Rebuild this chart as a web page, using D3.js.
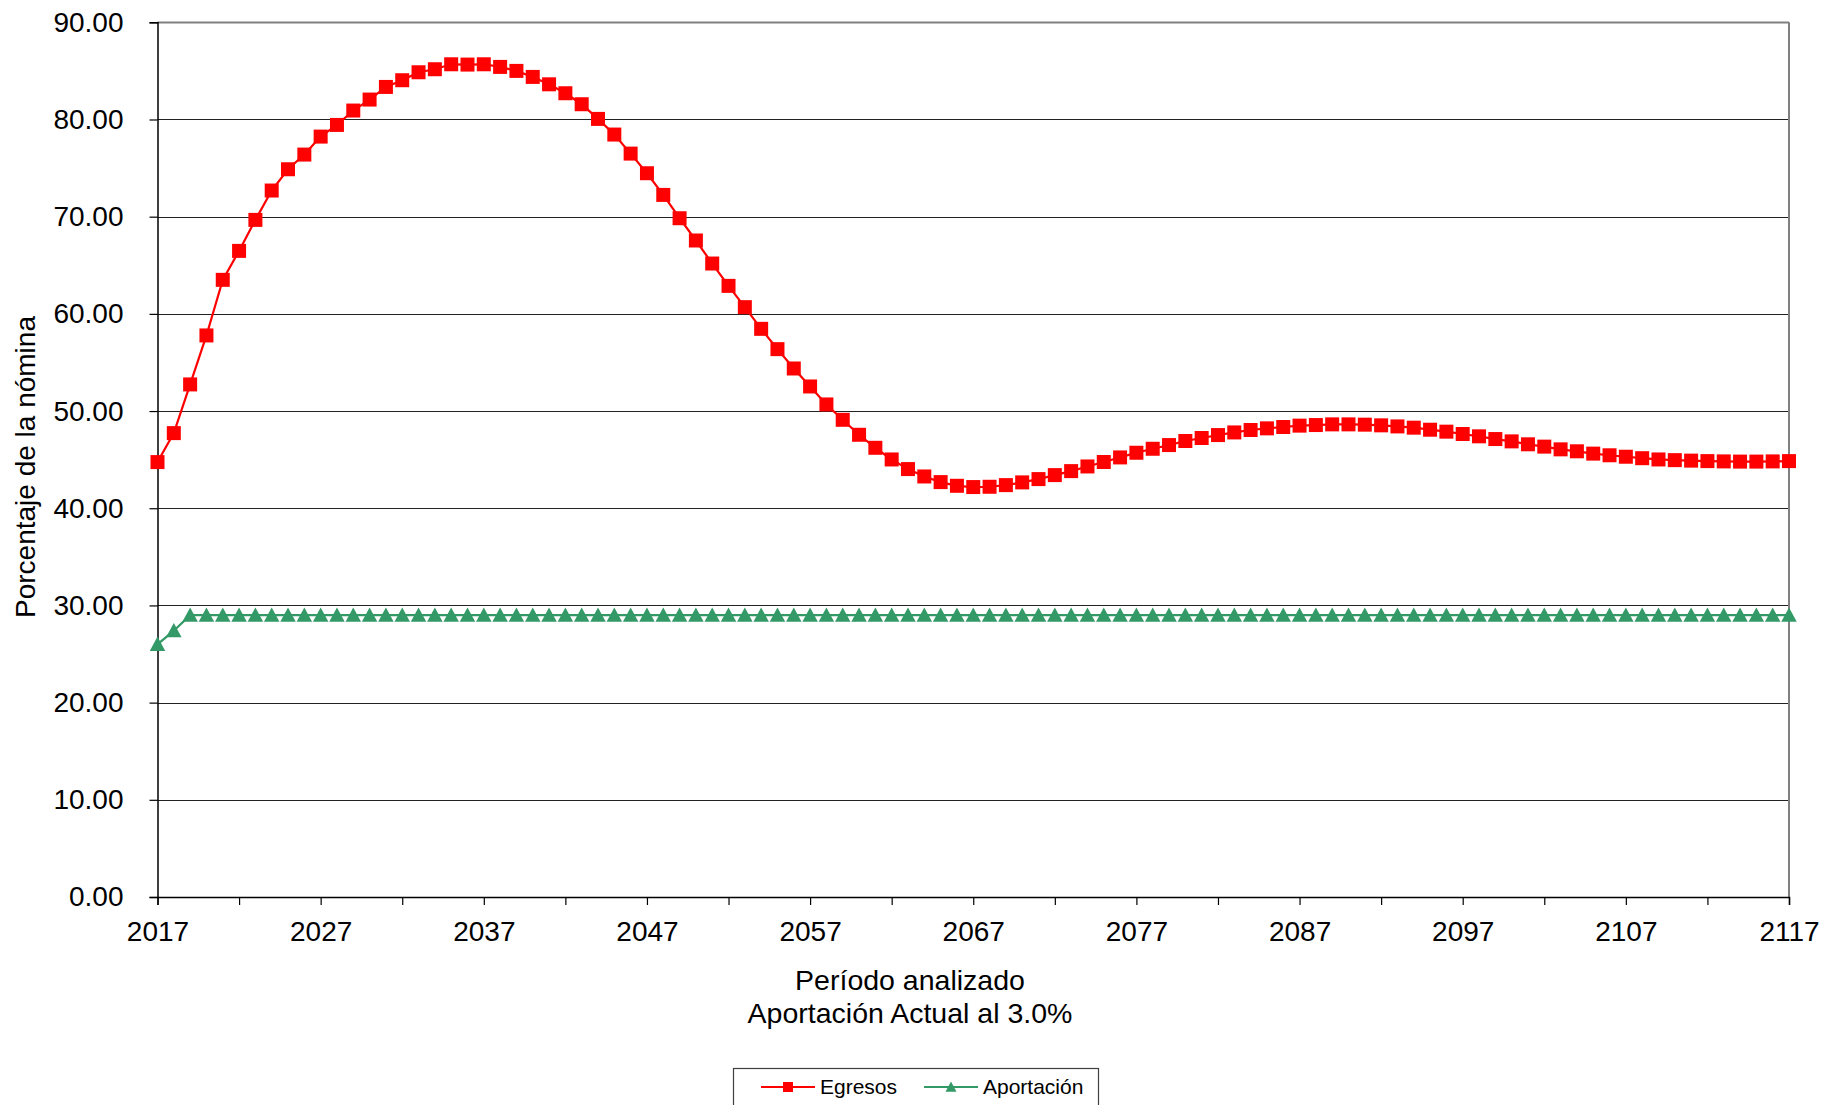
<!DOCTYPE html>
<html>
<head>
<meta charset="utf-8">
<script src="https://cdn.jsdelivr.net/npm/d3@7"></script>
<style>
  html, body { margin: 0; padding: 0; background: #fff; }
  svg { display: block; font-family: "Liberation Sans", Arial, sans-serif; }
</style>
</head>
<body>
<svg id="chart" width="1843" height="1105"></svg>
<script>
// ---------- data ----------
const years = [
  2017,2018,2019,2020,2021,2022,2023,2024,2025,2026,
  2027,2028,2029,2030,2031,2032,2033,2034,2035,2036,
  2037,2038,2039,2040,2041,2042,2043,2044,2045,2046,
  2047,2048,2049,2050,2051,2052,2053,2054,2055,2056,
  2057,2058,2059,2060,2061,2062,2063,2064,2065,2066,
  2067,2068,2069,2070,2071,2072,2073,2074,2075,2076,
  2077,2078,2079,2080,2081,2082,2083,2084,2085,2086,
  2087,2088,2089,2090,2091,2092,2093,2094,2095,2096,
  2097,2098,2099,2100,2101,2102,2103,2104,2105,2106,
  2107,2108,2109,2110,2111,2112,2113,2114,2115,2116,
  2117
];
const egresos = [
  44.75,47.73,52.74,57.78,63.50,66.48,69.67,72.69,74.88,76.39,
  78.24,79.44,80.92,82.05,83.35,84.04,84.86,85.17,85.68,85.65,
  85.68,85.41,85.00,84.38,83.62,82.70,81.57,80.06,78.45,76.49,
  74.47,72.24,69.84,67.55,65.18,62.88,60.69,58.46,56.37,54.38,
  52.53,50.68,49.10,47.56,46.22,45.02,44.03,43.27,42.69,42.31,
  42.18,42.21,42.38,42.66,43.00,43.41,43.82,44.30,44.76,45.23,
  45.71,46.12,46.50,46.92,47.23,47.53,47.80,48.05,48.22,48.36,
  48.50,48.56,48.63,48.63,48.60,48.53,48.42,48.29,48.08,47.88,
  47.64,47.40,47.12,46.88,46.58,46.34,46.06,45.86,45.62,45.45,
  45.30,45.15,45.02,44.95,44.90,44.85,44.82,44.80,44.80,44.82,
  44.85
];
const aportacion = [
  26.0,27.4,29.0,29.0,29.0,29.0,29.0,29.0,29.0,29.0,
  29.0,29.0,29.0,29.0,29.0,29.0,29.0,29.0,29.0,29.0,
  29.0,29.0,29.0,29.0,29.0,29.0,29.0,29.0,29.0,29.0,
  29.0,29.0,29.0,29.0,29.0,29.0,29.0,29.0,29.0,29.0,
  29.0,29.0,29.0,29.0,29.0,29.0,29.0,29.0,29.0,29.0,
  29.0,29.0,29.0,29.0,29.0,29.0,29.0,29.0,29.0,29.0,
  29.0,29.0,29.0,29.0,29.0,29.0,29.0,29.0,29.0,29.0,
  29.0,29.0,29.0,29.0,29.0,29.0,29.0,29.0,29.0,29.0,
  29.0,29.0,29.0,29.0,29.0,29.0,29.0,29.0,29.0,29.0,
  29.0,29.0,29.0,29.0,29.0,29.0,29.0,29.0,29.0,29.0,
  29.0
];
const yTicks = [0,10,20,30,40,50,60,70,80,90];
const xMinorTicks = [2017,2022,2027,2032,2037,2042,2047,2052,2057,2062,2067,2072,2077,2082,2087,2092,2097,2102,2107,2112,2117];
const xLabelTicks = [2017,2027,2037,2047,2057,2067,2077,2087,2097,2107,2117];
const seriesNames = ["Egresos", "Aportación"];
const xTitle = ["Período analizado", "Aportación Actual al 3.0%"];
const yTitle = "Porcentaje de la nómina";

// ---------- layout ----------
const plot = { left: 157.5, right: 1789, top: 22.3, bottom: 897 };
const RED = "#FF0000", GREEN = "#339966";

const svg = d3.select("#chart");
const x = d3.scaleLinear().domain([2017, 2117]).range([plot.left, plot.right]);
const y = d3.scaleLinear().domain([0, 90]).range([plot.bottom, plot.top]);

// gridlines
svg.append("g")
  .selectAll("line")
  .data(yTicks.filter(d => d > 0))
  .join("line")
  .attr("x1", plot.left).attr("x2", plot.right)
  .attr("y1", d => Math.round(y(d)) + 0.5).attr("y2", d => Math.round(y(d)) + 0.5)
  .attr("stroke", d => d === 90 ? "#808080" : "#222")
  .attr("stroke-width", d => d === 90 ? 2 : 1.2);

// right border
svg.append("line")
  .attr("x1", plot.right).attr("x2", plot.right)
  .attr("y1", plot.top).attr("y2", plot.bottom)
  .attr("stroke", "#808080").attr("stroke-width", 2);

// y axis
const yAxis = d3.axisLeft(y).tickValues(yTicks).tickSize(8).tickPadding(26)
  .tickFormat(d3.format(".2f"));
const gy = svg.append("g").attr("transform", `translate(${plot.left},0)`).call(yAxis);
gy.select(".domain").attr("stroke", "#000").attr("stroke-width", 1.5);
gy.selectAll(".tick line").attr("stroke", "#000").attr("stroke-width", 1.2);
gy.selectAll(".tick text").attr("font-size", 28).attr("fill", "#000")
  .attr("font-family", "Liberation Sans, Arial, sans-serif");

// x axis (ticks every 5 years, labels every 10)
const xAxis = d3.axisBottom(x).tickValues(xMinorTicks).tickSize(8).tickPadding(16)
  .tickFormat(d => xLabelTicks.includes(d) ? String(d) : "");
const gx = svg.append("g").attr("transform", `translate(0,${plot.bottom})`).call(xAxis);
gx.select(".domain").attr("stroke", "#000").attr("stroke-width", 1.5);
gx.selectAll(".tick line").attr("stroke", "#000").attr("stroke-width", 1.2);
gx.selectAll(".tick text").attr("font-size", 28).attr("fill", "#000")
  .attr("font-family", "Liberation Sans, Arial, sans-serif");

// axis titles
svg.append("text")
  .attr("transform", "translate(35,467) rotate(-90)")
  .attr("text-anchor", "middle")
  .attr("font-size", 28).attr("fill", "#000")
  .text(yTitle);
svg.append("text").attr("x", 910).attr("y", 990).attr("text-anchor", "middle")
  .attr("font-size", 28.5).attr("fill", "#000").text(xTitle[0]);
svg.append("text").attr("x", 910).attr("y", 1023).attr("text-anchor", "middle")
  .attr("font-size", 28.5).attr("fill", "#000").text(xTitle[1]);

// ---------- series ----------
const line = d3.line().x((d, i) => x(years[i])).y(d => y(d));
const squarePath = s => `M${-s/2},${-s/2}h${s}v${s}h${-s}Z`;
const triPath = s => `M0,${-s*0.5}L${s*0.5},${s*0.43}L${-s*0.5},${s*0.43}Z`;

// Aportación
svg.append("path").datum(aportacion)
  .attr("d", line).attr("fill", "none").attr("stroke", GREEN).attr("stroke-width", 2.2);
svg.append("g").selectAll("path").data(aportacion).join("path")
  .attr("transform", (d, i) => `translate(${x(years[i])},${y(d)})`)
  .attr("d", triPath(15.5)).attr("fill", GREEN);

// Egresos
svg.append("path").datum(egresos)
  .attr("d", line).attr("fill", "none").attr("stroke", RED).attr("stroke-width", 2.2);
svg.append("g").selectAll("path").data(egresos).join("path")
  .attr("transform", (d, i) => `translate(${x(years[i])},${y(d)})`)
  .attr("d", squarePath(14)).attr("fill", RED);

// ---------- legend ----------
const lg = svg.append("g");
lg.append("rect").attr("x", 733.5).attr("y", 1068.5).attr("width", 365).attr("height", 60)
  .attr("fill", "#fff").attr("stroke", "#404040").attr("stroke-width", 1.2);
const legendItems = [
  { name: seriesNames[0], color: RED, x0: 761, shape: squarePath(10) },
  { name: seriesNames[1], color: GREEN, x0: 924, shape: triPath(11) }
];
const ly = 1087;
legendItems.forEach(it => {
  lg.append("line").attr("x1", it.x0).attr("x2", it.x0 + 54).attr("y1", ly).attr("y2", ly)
    .attr("stroke", it.color).attr("stroke-width", 2.2);
  lg.append("path").attr("transform", `translate(${it.x0 + 27},${ly})`).attr("d", it.shape)
    .attr("fill", it.color);
  lg.append("text").attr("x", it.x0 + 59).attr("y", ly).attr("dy", "0.35em")
    .attr("font-size", 21).attr("fill", "#000").text(it.name);
});
</script>
</body>
</html>
